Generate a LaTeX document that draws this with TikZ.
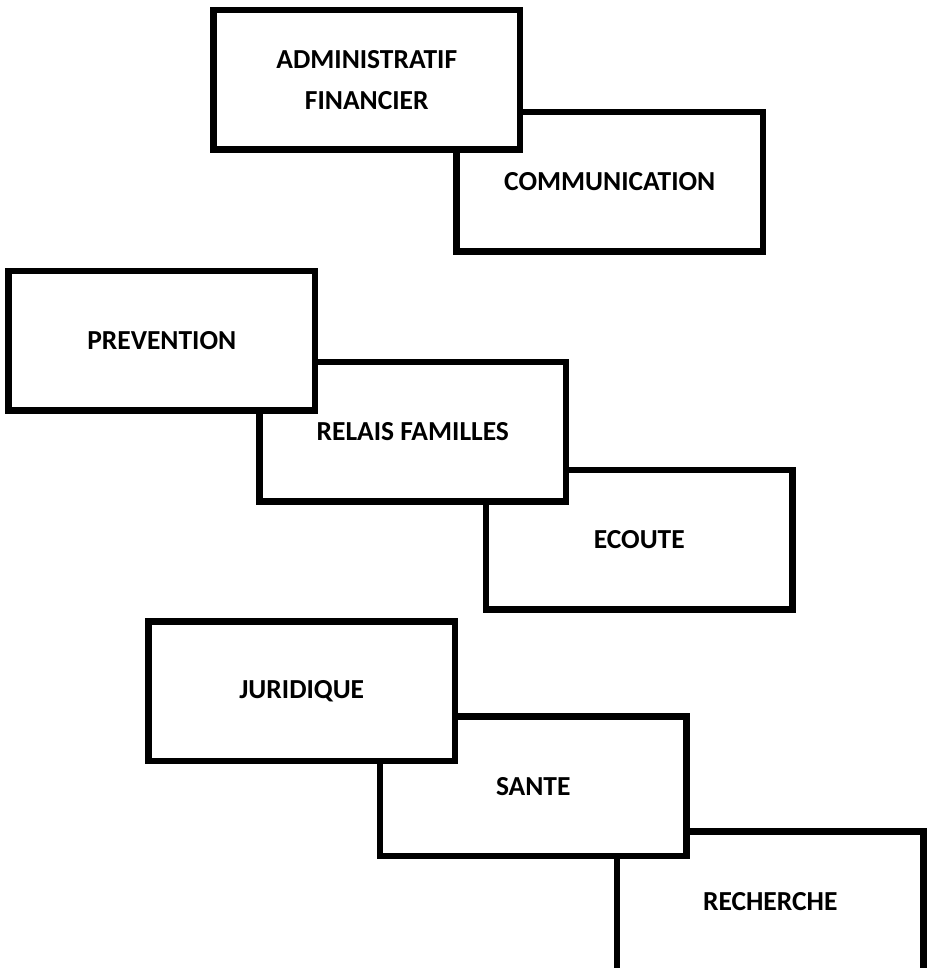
\documentclass[tikz,border=0pt]{standalone}
\usepackage{fontspec}
\setmainfont{Carlito}
\usepackage{tikz}
\usetikzlibrary{positioning}

\begin{document}
\begin{tikzpicture}[x=1pt, y=-1pt,
        box/.style={draw, fill=white, line width=6.5pt, rectangle, anchor=north west,
            minimum width=306.5pt, minimum height=139.5pt, inner sep=0pt, outer sep=0pt,
            align=center, font=\fontsize{27.5}{41}\selectfont\bfseries}]
        \useasboundingbox (0,0) rectangle (928,968);
        % later boxes sit behind earlier ones
        \node[box] (recherche) at (617,831.5) {RECHERCHE};
        \node[box] (sante) at (380,716.5) {SANTE};
        \node[box] (juridique) at (148.5,621.5) {JURIDIQUE};
        \node[box] (ecoute) at (486,470) {ECOUTE};
        \node[box] (relais) at (259.5,362) {RELAIS FAMILLES};
        \node[box] (prevention) at (8.5,271) {PREVENTION};
        \node[box] (communication) at (456.5,112) {COMMUNICATION};
        \node[box] (admin) at (213.5,10) {ADMINISTRATIF\\FINANCIER};
    \end{tikzpicture}
\end{document}
